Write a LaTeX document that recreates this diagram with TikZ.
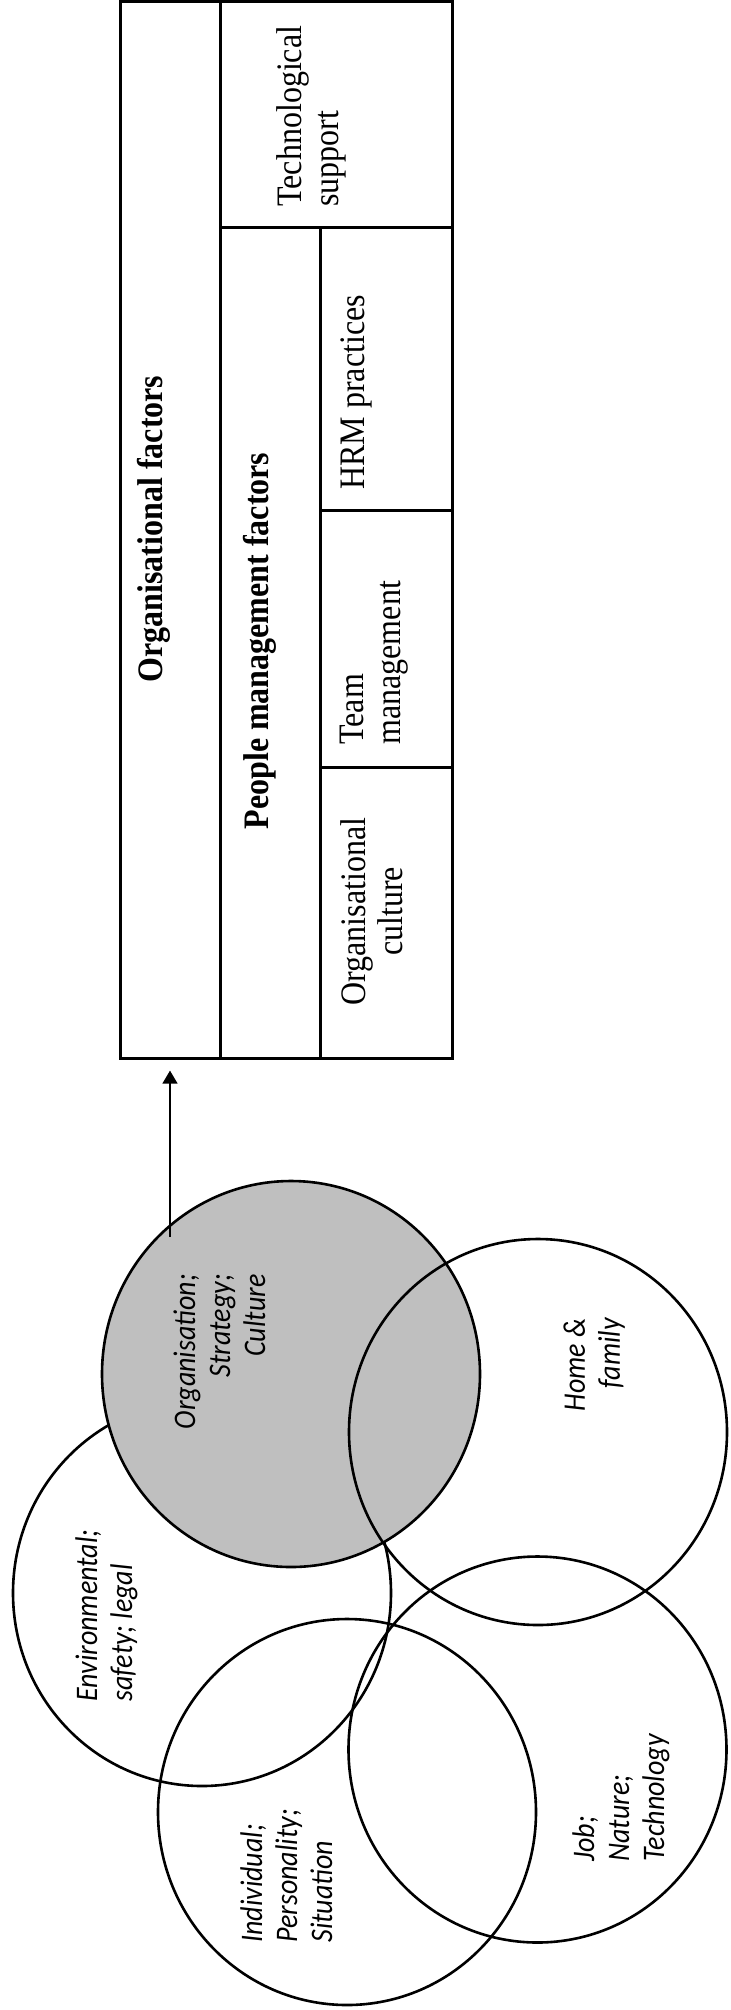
\documentclass[tikz,border=0pt]{standalone}
\usepackage{fontspec}
\setmainfont{Liberation Serif}
\newfontfamily\calib{Carlito}
\usetikzlibrary{shapes.geometric,arrows.meta,calc}
\definecolor{orggrey}{HTML}{BFBFBF}
\begin{document}
\begin{tikzpicture}[x=0.5pt,y=-0.5pt,
  cell/.style={draw, line width=1.3pt, rectangle, inner sep=0pt, anchor=north west},
  ttext/.style={font=\fontsize{16}{16.5}\selectfont, inner sep=0pt, rotate=90, yscale=1.12},
  tbold/.style={ttext, font=\fontsize{16}{16.5}\selectfont\bfseries},
  ctext/.style={font=\calib\itshape\fontsize{14}{15.6}\selectfont, inner sep=0pt, rotate=90, yscale=1.12},
  venn/.style={draw, ellipse, line width=1.3pt, minimum width=189pt, minimum height=193pt, inner sep=0pt}]
\useasboundingbox (0,0) rectangle (731,2010);
% table cells
\node[cell, minimum width=50pt, minimum height=528.5pt] (orgcol) at (119,0) {};
\node[cell, minimum width=116pt, minimum height=113pt] (tech) at (219,0) {};
\node[cell, minimum width=50pt, minimum height=415.5pt] (pmcol) at (219,226) {};
\node[cell, minimum width=66pt, minimum height=141.5pt] (hrm) at (319,226) {};
\node[cell, minimum width=66pt, minimum height=128.5pt] (team) at (319,509) {};
\node[cell, minimum width=66pt, minimum height=145.5pt] (cult) at (319,766) {};
% table texts
\node[tbold, anchor=base] (torg) at (162,529) {Organisational factors};
\node[tbold, anchor=base] (tpm) at (268,641) {People management factors};
\node[ttext, anchor=north west, align=left] (ttech) at (276,207) {Technological\\support};
\node[ttext, anchor=north west, align=left] (thrm) at (340,490) {HRM practices};
\node[ttext, anchor=north west, align=left] (tteam) at (340,745) {Team\\management};
\node[ttext, anchor=north, align=center] (tcult) at (340,911.5) {Organisational\\culture};
% venn circles
\node[venn] (env) at (202,1593) {};
\node[venn, fill=orggrey] (org) at (291,1374) {};
\node[venn] (home) at (538,1432) {};
\node[venn] (ind) at (347,1812) {};
\node[venn] (job) at (537.5,1749.5) {};
% circle texts
\node[ctext, anchor=north east, align=right] (torgc) at (173,1274) {Organisation;\\Strategy;\\Culture};
\node[ctext, anchor=north east, align=right] (thome) at (563,1318) {Home \&\\family};
\node[ctext, anchor=north west, align=left] (tenv) at (75,1702) {Environmental;\\safety; legal};
\node[ctext, anchor=north west, align=left] (tjob) at (572,1862) {Job;\\Nature;\\Technology};
\node[ctext, anchor=north west, align=left] (tind) at (240,1943) {Individual;\\Personality;\\Situation};
% arrow
\coordinate (astart) at (170,1237);
\draw[line width=0.65pt, -{Triangle[length=6.5pt, width=7.5pt]}, shorten >=5.5pt] (astart) -- (astart |- orgcol.south);
\end{tikzpicture}
\end{document}
